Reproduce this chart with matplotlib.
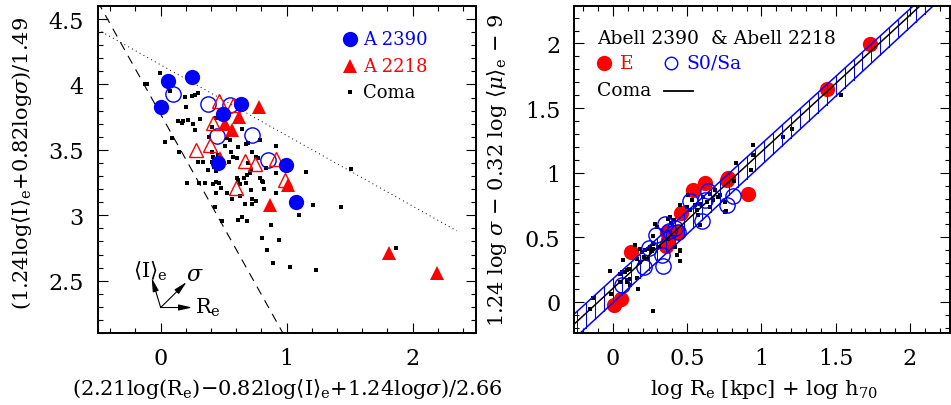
import numpy as np
import matplotlib
matplotlib.use('Agg')
import matplotlib.pyplot as plt
from matplotlib.ticker import MultipleLocator, FuncFormatter

plt.rcParams['font.family'] = ['DejaVu Serif']
plt.rcParams['mathtext.fontset'] = 'dejavuserif'

# ---- left panel: fundamental plane edge-on-ish view ----
a2390_e_x = [0.0, 0.055, 0.25, 0.496, 0.641, 0.456, 0.997, 1.071]
a2390_e_y = [3.83, 4.026, 4.056, 3.777, 3.854, 3.403, 3.385, 3.10]
a2390_s_x = [0.095, 0.372, 0.549, 0.446, 0.728, 0.855]
a2390_s_y = [3.93, 3.854, 3.841, 3.603, 3.61, 3.423]
a2218_e_x = [0.784, 0.623, 0.512, 0.567, 0.47, 1.013, 0.865, 1.815, 2.19]
a2218_e_y = [3.83, 3.75, 3.70, 3.649, 3.44, 3.23, 3.077, 2.713, 2.559]
a2218_s_x = [0.462, 0.575, 0.417, 0.39, 0.28, 0.668, 0.747, 0.918, 0.984, 0.594]
a2218_s_y = [3.877, 3.84, 3.705, 3.538, 3.50, 3.418, 3.39, 3.43, 3.27, 3.21]

coma_l_x = [-0.124, -0.106, -0.006, 0.074, 0.192, 0.245, 0.272, 0.298, 0.2, 0.14,
            0.166, 0.179, 0.219, 0.258, 0.311, 0.272, 0.087, 0.034, 0.148, 0.385,
            0.406, 0.438, 0.549, 0.644, 0.575, 0.509, 0.615, 0.694, 0.786, 0.913,
            0.404, 0.338, 0.456, 0.562, 0.602, 0.721, 0.76, 0.694, 0.839, 0.919,
            0.298, 0.404, 0.543, 0.377, 0.206, 0.306, 0.351, 0.417, 0.443, 0.464,
            0.477, 0.443, 0.527, 0.633, 0.567, 0.628, 0.667, 0.728, 0.728, 0.755,
            0.72, 0.786, 0.807, 0.818, 0.918, 1.156, 1.208, 1.095, 0.435, 0.49,
            0.615, 0.649, 0.686, 0.879, 0.807, 0.937, 0.847, 0.892, 1.029, 1.235,
            0.66, 0.686, 0.707, 0.72, 0.607, 1.433, 1.512, 1.868, 0.53, 0.575,
            0.681, 0.773, 0.425, 0.443, 0.417, 0.615, 0.681, 0.813]
coma_l_y = [4.005, 4.005, 4.09, 3.949, 3.902, 3.91, 3.923, 3.936, 3.826, 3.723,
            3.705, 3.718, 3.728, 3.697, 3.738, 3.654, 3.59, 3.564, 3.487, 3.602,
            3.672, 3.743, 3.577, 3.659, 3.628, 3.533, 3.525, 3.551, 3.577, 3.533,
            3.487, 3.41, 3.461, 3.482, 3.436, 3.487, 3.449, 3.397, 3.359, 3.32,
            3.405, 3.41, 3.405, 3.346, 3.244, 3.244, 3.244, 3.236, 3.257, 3.25,
            3.21, 3.172, 3.172, 3.236, 3.123, 3.149, 3.09, 3.09, 3.128, 3.108,
            3.192, 3.282, 3.261, 3.198, 3.172, 3.328, 3.077, 3.0, 3.064, 2.954,
            2.962, 2.988, 2.954, 2.928, 2.828, 2.808, 2.738, 2.636, 2.608, 2.585,
            3.288, 3.308, 3.321, 3.346, 3.288, 3.064, 3.354, 2.749, 3.59, 3.449,
            3.546, 3.436, 3.372, 3.338, 3.449, 3.269, 3.244, 3.256]

# limit lines (intercept, slope)
dotted_line = (4.15, -0.54)
dashed_line = (3.772, -1.724)

# ---- right panel: Kormendy-like projection ----
e_x = [0.004, 0.056, 0.121, 0.358, 0.363, 0.37, 0.434, 0.457, 0.54, 0.621, 0.777, 0.77, 0.91, 1.439, 1.73]
e_y = [-0.026, 0.026, 0.387, 0.43, 0.542, 0.48, 0.542, 0.686, 0.864, 0.923, 0.96, 0.94, 0.838, 1.651, 1.994]
s0_x = [0.06, 0.21, 0.24, 0.29, 0.34, 0.33, 0.35, 0.38, 0.42, 0.44, 0.52, 0.6, 0.64, 0.62, 0.765, 0.81]
s0_y = [0.13, 0.27, 0.42, 0.52, 0.28, 0.36, 0.6, 0.55, 0.57, 0.54, 0.78, 0.63, 0.86, 0.79, 0.75, 0.82]

coma_r_x = [-0.153, -0.137, -0.018, 0.273, 0.946, 0.946, 0.928, 0.829, 1.148, 1.208,
            1.535, 0.818, 0.762, 0.755, 0.453, 0.43, 0.453, 0.172, 0.049, 0.071,
            0.15, 0.184, 0.195, 0.217, 0.251, 0.262, 0.273, 0.161, 0.184, 0.105,
            0.083, 0.094, 0.116, 0.049, 0.206, 0.229, 0.284, 0.296, 0.273, 0.374,
            0.385, 0.408, 0.39, 0.419, 0.434, 0.453, 0.453, 0.453, 0.508, 0.531,
            0.498, 0.52, 0.553, 0.565, 0.587, 0.576, 0.609, 0.632, 0.654, 0.654,
            0.688, 0.71, 0.677, 0.722, 0.755, 0.587, 0.06, 0.094, 0.094, 0.161,
            0.116, 0.239, -0.01, 0.374, 0.307, 0.267]
coma_r_y = [-0.052, 0.031, 0.237, -0.073, 1.212, 1.135, 1.019, 1.078, 1.277, 1.341,
            1.599, 0.933, 0.704, 0.77, 0.4, 0.36, 0.314, 0.103, 0.219, 0.322,
            0.438, 0.412, 0.387, 0.4, 0.426, 0.395, 0.451, 0.335, 0.31, 0.258,
            0.232, 0.167, 0.18, 0.155, 0.348, 0.335, 0.606, 0.58, 0.508, 0.645,
            0.658, 0.632, 0.611, 0.426, 0.361, 0.395, 0.317, 0.748, 0.825, 0.786,
            0.735, 0.709, 0.748, 0.709, 0.761, 0.67, 0.813, 0.774, 0.838, 0.735,
            0.864, 0.813, 0.786, 0.825, 0.697, 0.593, 0.232, 0.245, 0.155, 0.186,
            0.129, 0.412, 0.06, 0.49, 0.426, 0.413]

coma_fit = (0.105, 1.057)
band_upper = (0.179, 1.044)
band_lower = (-0.006, 1.065)

BLUE = '#0000ff'
RED = '#ff0000'

fig = plt.figure(figsize=(9.51, 4.06), dpi=100)
ax1 = fig.add_axes([0.1027, 0.1773, 0.3975, 0.8055])
ax2 = fig.add_axes([0.6039, 0.1773, 0.3951, 0.8055])


def style_axes(ax):
    for s in ax.spines.values():
        s.set_linewidth(1.4)
    ax.tick_params(which='both', direction='in', top=True, right=True, width=0.8,
                   labelsize=16, pad=10)
    ax.tick_params(which='major', length=7)
    ax.tick_params(which='minor', length=3.6)
    ax.xaxis.set_major_formatter(FuncFormatter(lambda v, p: '%g' % v))
    ax.yaxis.set_major_formatter(FuncFormatter(lambda v, p: '%g' % v))


# left panel
xx = np.linspace(-0.5, 2.35, 50)
ax1.plot(xx, dotted_line[0] + dotted_line[1] * xx, color='k', lw=0.7, ls=(0, (1, 3.5)))
xx = np.linspace(-0.5, 1.0, 50)
ax1.plot(xx, dashed_line[0] + dashed_line[1] * xx, color='k', lw=0.8, ls=(0, (8, 6)))

ax1.plot(coma_l_x, coma_l_y, 's', color='k', ms=3, mew=0)
ax1.plot(a2390_s_x, a2390_s_y, 'o', mfc='none', mec=BLUE, ms=11, mew=1.0)
ax1.plot(a2218_s_x, a2218_s_y, '^', mfc='none', mec=RED, ms=10, mew=1.0)
ax1.plot(a2218_e_x, a2218_e_y, '^', color=RED, ms=10, mew=0)
ax1.plot(a2390_e_x, a2390_e_y, 'o', color=BLUE, ms=11, mew=0)

ax1.set_xlim(-0.5, 2.5)
ax1.set_ylim(2.1, 4.6)
ax1.xaxis.set_major_locator(MultipleLocator(1))
ax1.xaxis.set_minor_locator(MultipleLocator(0.2))
ax1.yaxis.set_major_locator(MultipleLocator(0.5))
ax1.yaxis.set_minor_locator(MultipleLocator(0.1))
style_axes(ax1)

# projection arrows
arr = dict(arrowstyle='-|>,head_length=0.8,head_width=0.18', color='k', lw=0.8,
           shrinkA=0, shrinkB=0)
ax1.annotate('', xy=(0.25, 2.295), xytext=(0.0, 2.295), arrowprops=arr)
ax1.annotate('', xy=(0.206, 2.49), xytext=(0.0, 2.295), arrowprops=arr)
ax1.annotate('', xy=(-0.071, 2.52), xytext=(0.0, 2.295), arrowprops=arr)
ax1.text(-0.085, 2.58, r'$\langle\mathrm{I}\rangle_\mathrm{e}$', fontsize=15, ha='center', va='center')
ax1.text(0.27, 2.55, r'$\sigma$', fontsize=16, ha='center', va='center')
ax1.text(0.275, 2.3, r'R$_\mathrm{e}$', fontsize=15, ha='left', va='center')

# left legend
ax1.plot([0.667], [0.899], 'o', color=BLUE, ms=11, mew=0, transform=ax1.transAxes, clip_on=False)
ax1.plot([0.667], [0.817], '^', color=RED, ms=10, mew=0, transform=ax1.transAxes, clip_on=False)
ax1.plot([0.667], [0.737], 's', color='k', ms=3, mew=0, transform=ax1.transAxes, clip_on=False)
ax1.text(0.702, 0.899, 'A 2390', color=BLUE, fontsize=13, va='center', transform=ax1.transAxes)
ax1.text(0.702, 0.817, 'A 2218', color=RED, fontsize=13, va='center', transform=ax1.transAxes)
ax1.text(0.702, 0.737, 'Coma', color='k', fontsize=13, va='center', transform=ax1.transAxes)

ax1.set_xlabel(r'(2.21log(R$_\mathrm{e}$)$-$0.82log$\langle\mathrm{I}\rangle_\mathrm{e}$+1.24log$\sigma$)/2.66',
               fontsize=15, va='center')
ax1.xaxis.set_label_coords(0.5, -0.168)
ax1.set_ylabel(r'(1.24log$\langle\mathrm{I}\rangle_\mathrm{e}$+0.82log$\sigma$)/1.49', fontsize=15, va='center')
ax1.yaxis.set_label_coords(-0.2, 0.52)

# right panel
ax2.plot(e_x, e_y, 'o', color=RED, ms=11, mew=0)
ax2.plot(coma_r_x, coma_r_y, 's', color='k', ms=3.2, mew=0)
ax2.plot(s0_x, s0_y, 'o', mfc='none', mec=BLUE, ms=11, mew=1.0)

xx = np.linspace(-0.3, 2.3, 10)
ax2.plot(xx, band_upper[0] + band_upper[1] * xx, color=BLUE, lw=1.1)
ax2.plot(xx, band_lower[0] + band_lower[1] * xx, color=BLUE, lw=1.1)
hx = np.arange(-0.24, 2.3, 0.06)
ax2.vlines(hx, band_lower[0] + band_lower[1] * hx, band_upper[0] + band_upper[1] * hx,
           colors=BLUE, lw=0.6, antialiased=False)
ax2.plot(xx, coma_fit[0] + coma_fit[1] * xx, color='k', lw=1.1)

ax2.set_xlim(-0.26, 2.27)
ax2.set_ylim(-0.24, 2.29)
ax2.xaxis.set_major_locator(MultipleLocator(0.5))
ax2.xaxis.set_minor_locator(MultipleLocator(0.1))
ax2.yaxis.set_major_locator(MultipleLocator(0.5))
ax2.yaxis.set_minor_locator(MultipleLocator(0.1))
style_axes(ax2)

# right legend
ax2.text(0.061, 0.902, 'Abell 2390  & Abell 2218', fontsize=13.5, va='center', transform=ax2.transAxes)
ax2.plot([0.08], [0.827], 'o', color=RED, ms=11, mew=0, transform=ax2.transAxes)
ax2.text(0.122, 0.827, 'E', color=RED, fontsize=13.5, va='center', transform=ax2.transAxes)
ax2.plot([0.257], [0.827], 'o', mfc='none', mec=BLUE, ms=9, mew=1.0, transform=ax2.transAxes)
ax2.text(0.299, 0.827, 'S0/Sa', color=BLUE, fontsize=13.5, va='center', transform=ax2.transAxes)
ax2.text(0.061, 0.744, 'Coma', color='k', fontsize=13.5, va='center', transform=ax2.transAxes)
ax2.plot([0.24, 0.317], [0.741, 0.741], color='k', lw=1.3, transform=ax2.transAxes)

ax2.set_xlabel(r'log R$_\mathrm{e}$ [kpc] + log h$_{70}$', fontsize=15, va='center')
ax2.xaxis.set_label_coords(0.505, -0.171)
ax2.set_ylabel(r'1.24 log $\sigma$ $-$ 0.32 log $\langle\mu\rangle_\mathrm{e}$ $-$ 9', fontsize=15, va='center')
ax2.yaxis.set_label_coords(-0.206, 0.5)

fig.savefig('out.png', dpi=100)
